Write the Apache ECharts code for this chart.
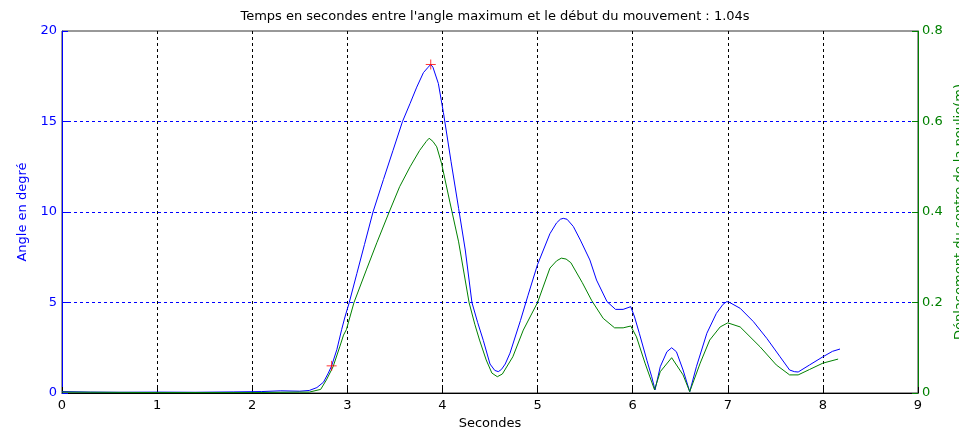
<!DOCTYPE html>
<html>
<head>
<meta charset="utf-8">
<script src="https://cdn.jsdelivr.net/npm/echarts@6/dist/echarts.min.js"></script>
<style>
  html, body { margin: 0; padding: 0; background: #fff; overflow: hidden; }
  #chart { width: 959px; height: 434px; }
</style>
</head>
<body>
<div id="chart"></div>
<script>
// Angle (degrees) over time (s)
const angleTime = [0, 0.3, 0.6, 1.0, 1.4, 1.8, 2.1, 2.3, 2.5, 2.6, 2.68, 2.75, 2.8, 2.835, 2.89, 2.94, 2.975, 3.02, 3.1, 3.18, 3.27, 3.38, 3.48, 3.58, 3.66, 3.73, 3.8, 3.85, 3.877, 3.9, 3.957, 4.01, 4.09, 4.17, 4.24, 4.31, 4.37, 4.43, 4.5, 4.55, 4.587, 4.62, 4.66, 4.71, 4.82, 4.9, 5.0, 5.13, 5.2, 5.24, 5.27, 5.31, 5.376, 5.45, 5.55, 5.62, 5.73, 5.82, 5.9, 5.98, 6.02, 6.07, 6.15, 6.2, 6.235, 6.29, 6.36, 6.41, 6.46, 6.53, 6.6, 6.67, 6.78, 6.88, 6.95, 6.99, 7.02, 7.13, 7.27, 7.41, 7.55, 7.65, 7.7, 7.74, 7.86, 8.0, 8.1, 8.18];
const angle = [0.08, 0.05, 0.04, 0.05, 0.04, 0.06, 0.08, 0.12, 0.1, 0.14, 0.3, 0.6, 1.1, 1.5, 2.4, 3.5, 4.2, 5.0, 6.6, 8.2, 10.0, 11.8, 13.4, 15.0, 16.0, 16.9, 17.7, 18.0, 18.15, 18.0, 17.1, 15.5, 12.8, 10.2, 7.9, 5.0, 3.9, 2.9, 1.6, 1.25, 1.18, 1.3, 1.6, 2.2, 4.0, 5.4, 7.1, 8.8, 9.4, 9.6, 9.65, 9.6, 9.2, 8.45, 7.35, 6.24, 5.05, 4.62, 4.62, 4.77, 4.2, 3.3, 1.8, 0.9, 0.17, 1.45, 2.28, 2.5, 2.28, 1.27, 0.07, 1.45, 3.3, 4.4, 4.9, 5.05, 5.0, 4.68, 3.94, 3.02, 2.0, 1.27, 1.18, 1.16, 1.55, 2.0, 2.3, 2.43];

// Pulley centre displacement (m) over time (s)
const dispTime = [0, 1.0, 2.0, 2.5, 2.6, 2.72, 2.78, 2.85, 2.92, 2.96, 2.99, 3.07, 3.2, 3.31, 3.44, 3.55, 3.66, 3.76, 3.83, 3.86, 3.9, 3.94, 3.99, 4.08, 4.17, 4.28, 4.34, 4.39, 4.46, 4.52, 4.577, 4.63, 4.74, 4.85, 5.0, 5.13, 5.2, 5.25, 5.3, 5.35, 5.47, 5.57, 5.69, 5.81, 5.9, 5.98, 6.04, 6.13, 6.23, 6.29, 6.41, 6.53, 6.6, 6.71, 6.81, 6.92, 7.0, 7.13, 7.34, 7.51, 7.65, 7.74, 7.86, 8.0, 8.16];
const disp = [0.002, 0.001, 0.001, 0.002, 0.002, 0.008, 0.029, 0.058, 0.102, 0.128, 0.14, 0.2, 0.272, 0.332, 0.4, 0.456, 0.5, 0.536, 0.556, 0.563, 0.556, 0.544, 0.508, 0.42, 0.334, 0.2, 0.152, 0.117, 0.073, 0.044, 0.036, 0.042, 0.08, 0.139, 0.2, 0.276, 0.292, 0.298, 0.296, 0.288, 0.244, 0.204, 0.165, 0.144, 0.144, 0.148, 0.124, 0.066, 0.007, 0.047, 0.078, 0.04, 0.003, 0.066, 0.117, 0.146, 0.155, 0.146, 0.102, 0.062, 0.04, 0.04, 0.052, 0.066, 0.075];

// Movement start and maximum angle
const markTime = [2.835, 3.877];
const markAngle = [1.5, 18.15];

const xTicks = { min: 0, max: 9, interval: 1 };
const angleTicks = { min: 0, max: 20, interval: 5 };
const dispTicks = { min: 0, max: 0.8, interval: 0.2 };

const FONT = 'DejaVu Sans';
const FS = 13;
const BLUE = '#0000ff';
const GREEN = '#008000';

const zip = (xs, ys) => xs.map((x, i) => [x, ys[i]]);

const chart = echarts.init(document.getElementById('chart'), null, { renderer: 'canvas' });
chart.setOption({
  animation: false,
  backgroundColor: '#ffffff',
  textStyle: { fontFamily: FONT },
  title: {
    text: "Temps en secondes entre l'angle maximum et le début du mouvement : 1.04s",
    left: 490,
    textAlign: 'center',
    top: 5,
    textStyle: { fontFamily: FONT, fontSize: FS, fontWeight: 'normal', color: '#000' }
  },
  grid: {
    left: 62, right: 41, top: 31, bottom: 41,
    containLabel: false,
    outerBoundsMode: 'none',
    show: true, borderColor: '#333', borderWidth: 1, backgroundColor: 'transparent'
  },
  xAxis: {
    type: 'value',
    min: xTicks.min, max: xTicks.max, interval: xTicks.interval,
    name: 'Secondes', nameLocation: 'middle', nameGap: 24,
    nameTextStyle: { fontFamily: FONT, fontSize: FS, color: '#000' },
    axisLine: { lineStyle: { color: '#000', width: 1 } },
    axisTick: { inside: true, length: 6, lineStyle: { color: '#000' } },
    axisLabel: { color: '#000', fontFamily: FONT, fontSize: FS, margin: 6 },
    splitLine: { show: true, lineStyle: { color: '#000', type: [3, 3], width: 1 } }
  },
  yAxis: [
    {
      type: 'value', position: 'left',
      min: angleTicks.min, max: angleTicks.max, interval: angleTicks.interval,
      name: 'Angle en degré', nameLocation: 'middle', nameGap: 33,
      nameTextStyle: { fontFamily: FONT, fontSize: FS, color: BLUE },
      axisLine: { show: true, lineStyle: { color: BLUE, width: 1 } },
      axisTick: { show: true, inside: true, length: 6, lineStyle: { color: BLUE } },
      axisLabel: { color: BLUE, fontFamily: FONT, fontSize: FS, margin: 5 },
      splitLine: { show: true, showMinLine: false, showMaxLine: false,
        lineStyle: { color: BLUE, type: [3, 3], width: 1 } }
    },
    {
      type: 'value', position: 'right',
      min: dispTicks.min, max: dispTicks.max, interval: dispTicks.interval,
      name: 'Déplacement du centre de la poulie(m)', nameLocation: 'middle', nameGap: 18,
      nameTextStyle: { fontFamily: FONT, fontSize: FS, color: GREEN },
      axisLine: { show: true, lineStyle: { color: GREEN, width: 1 } },
      axisTick: { show: true, inside: true, length: 6, lineStyle: { color: GREEN } },
      axisLabel: { color: GREEN, fontFamily: FONT, fontSize: FS, margin: 4 },
      splitLine: { show: false }
    }
  ],
  series: [
    {
      name: 'Angle', type: 'line', yAxisIndex: 0,
      data: zip(angleTime, angle),
      showSymbol: false, symbol: 'none',
      lineStyle: { color: BLUE, width: 1 }, itemStyle: { color: BLUE },
      z: 3
    },
    {
      name: 'Déplacement', type: 'line', yAxisIndex: 1,
      data: zip(dispTime, disp),
      showSymbol: false, symbol: 'none',
      lineStyle: { color: GREEN, width: 1 }, itemStyle: { color: GREEN },
      z: 4
    },
    {
      name: 'Repères', type: 'scatter', yAxisIndex: 0,
      data: zip(markTime, markAngle),
      symbol: 'path://M0,5L10,5M5,0L5,10',
      symbolSize: 10,
      itemStyle: { color: 'none', borderColor: '#ff0000', borderWidth: 1 },
      z: 5
    }
  ]
});
</script>
</body>
</html>
